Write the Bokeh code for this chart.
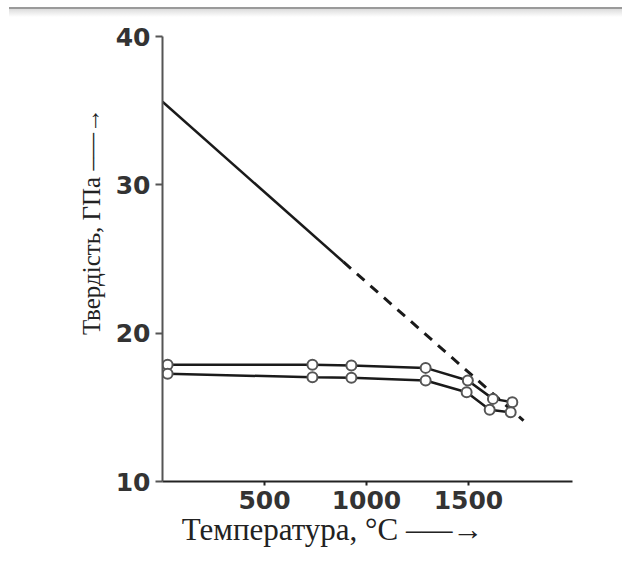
from bokeh.plotting import figure
from bokeh.models import FixedTicker, Range1d, Div
from bokeh.layouts import column
from bokeh.embed import file_html
from bokeh.resources import INLINE

# --- data ---
line_solid_x = [0, 887]
line_solid_y = [35.6, 24.8]
line_dash_x = [887, 1770]
line_dash_y = [24.8, 14.1]

upper_x = [25, 735, 926, 1290, 1497, 1620, 1715]
upper_y = [17.87, 17.87, 17.82, 17.66, 16.81, 15.57, 15.35]

lower_x = [25, 735, 926, 1290, 1491, 1604, 1707]
lower_y = [17.26, 17.03, 16.99, 16.81, 16.02, 14.83, 14.67]

x_ticks = [500, 1000, 1500]
y_ticks = [10, 20, 30, 40]

NB = "\u00a0"
x_title = "Температура, °C" + NB + "–—→" + NB * 9
y_title = NB * 12 + "Твердість, ГПа" + NB + "–—→"

TOP = 17  # height taken by the page rule above the chart

p = figure(width=622, height=566 - TOP, output_backend="svg", toolbar_location=None,
           x_range=Range1d(0, 2010), y_range=Range1d(10, 40),
           min_border_left=162, min_border_right=50, min_border_top=36 - TOP,
           min_border_bottom=85)
p.outline_line_color = None
p.grid.visible = False
p.background_fill_color = "white"
p.border_fill_color = "white"

for ax, col in ((p.xaxis, "#222222"), (p.yaxis, "#555555")):
    ax.axis_line_color = col
    ax.axis_line_width = 2
    ax.major_tick_line_color = col
    ax.major_tick_line_width = 2
    ax.minor_tick_line_color = None
    ax.major_tick_in = 0
    ax.major_label_text_font = "DejaVu Sans"
    ax.major_label_text_font_style = "bold"
    ax.major_label_text_font_size = "25px"
    ax.major_label_text_color = "#333333"
    ax.major_label_standoff = 5
    ax.axis_label_text_font = "Liberation Serif"
    ax.axis_label_text_font_style = "normal"
    ax.axis_label_text_color = "#222222"

p.xaxis.ticker = FixedTicker(ticks=x_ticks)
p.yaxis.ticker = FixedTicker(ticks=y_ticks)
p.xaxis.major_tick_out = 4
p.yaxis.major_tick_out = 7

p.xaxis.axis_label = x_title
p.xaxis.axis_label_text_font_size = "31px"
p.xaxis.axis_label_standoff = 0
p.yaxis.axis_label = y_title
p.yaxis.axis_label_text_font_size = "25px"
p.yaxis.axis_label_standoff = 8

# data lines
p.line(line_solid_x, line_solid_y, line_color="#1a1a1a", line_width=2.5)
p.line(line_dash_x, line_dash_y, line_color="#1a1a1a", line_width=3,
       line_dash="10 8")
p.line(upper_x, upper_y, line_color="#1a1a1a", line_width=2.5)
p.line(lower_x, lower_y, line_color="#1a1a1a", line_width=2.5)
p.scatter(upper_x, upper_y, marker="circle", size=10, fill_color="white",
          line_color="#555555", line_width=2)
p.scatter(lower_x, lower_y, marker="circle", size=10, fill_color="white",
          line_color="#555555", line_width=2)

# gray rule at the top of the page
rule = Div(text="", width=613, height=10, margin=(7, 0, 0, 9),
           styles={"border-top": "2px solid #9a9a9a",
                   "background": "linear-gradient(#dcdcdc, #ffffff)",
                   "box-sizing": "border-box"})

layout = column(rule, p, spacing=0)
open("out.html", "w").write(file_html(layout, INLINE))
